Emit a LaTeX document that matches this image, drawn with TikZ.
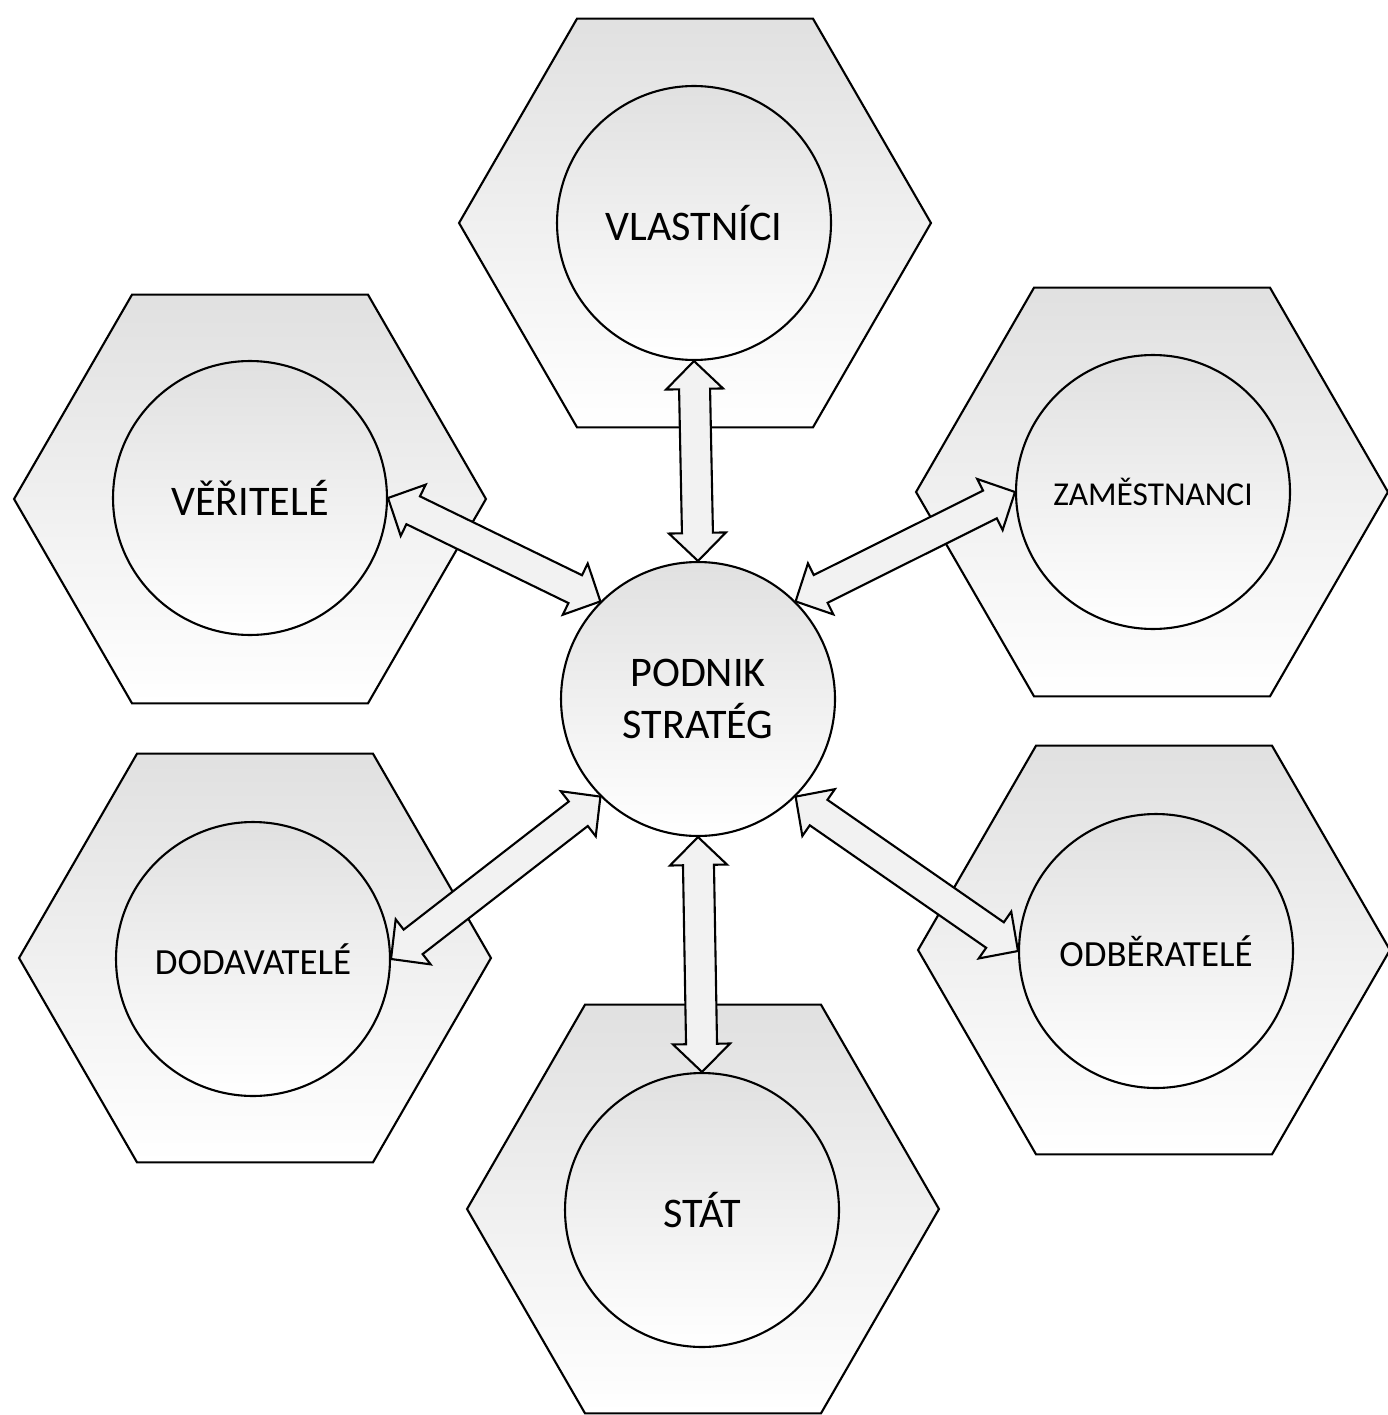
\documentclass[tikz,border=0pt]{standalone}
\usepackage{fontspec}
\setmainfont{Carlito}
\usetikzlibrary{calc, shapes.geometric}

% double-headed block arrow between two anchors
\newcommand{\twinarrow}[2]{%
	\coordinate (ha) at ($(#1)!0.56cm!(#2)$);
	\coordinate (hb) at ($(#2)!0.56cm!(#1)$);
	\filldraw[blockarrow] (#1) -- ($(ha)!0.57cm!90:(#1)$) -- ($(ha)!0.31cm!90:(#1)$)
		-- ($(hb)!0.31cm!-90:(#2)$) -- ($(hb)!0.57cm!-90:(#2)$) -- (#2)
		-- ($(hb)!0.57cm!90:(#2)$) -- ($(hb)!0.31cm!90:(#2)$)
		-- ($(ha)!0.31cm!-90:(#1)$) -- ($(ha)!0.57cm!-90:(#1)$) -- cycle;}

\begin{document}
\begin{tikzpicture}[
				x=0.02cm, y=-0.02cm,
				hexa/.style={regular polygon, regular polygon sides=6, minimum size=9.44cm, inner sep=0pt,
					draw, line width=1.2pt, top color=black!12, middle color=black!3, bottom color=white},
				disc/.style={circle, minimum size=5.48cm, inner sep=0pt, draw, line width=1.2pt,
					top color=black!12, middle color=black!2, bottom color=white, align=center,
					font=\fontsize{24}{29.5}\selectfont},
				blockarrow/.style={draw, line width=1.2pt, fill=black!5, line join=miter}
				]
				\useasboundingbox (0,0) rectangle (1387,1415);
				
				% --- Outer hexagons ---
				\node[hexa] (hvla) at (695,223) {};
				\node[hexa] (hver) at (250,499) {};
				\node[hexa] (hzam) at (1152,492) {};
				\node[hexa] (hdod) at (255,958) {};
				\node[hexa] (hodb) at (1154,950) {};
				\node[hexa] (hsta) at (703,1209) {};
				
				% --- Circles with stakeholders ---
				\node[disc] (vla) at (694,223) {VLASTNÍCI};
				\node[disc] (ver) at (250,498) {VĚŘITELÉ};
				\node[disc, font=\fontsize{19}{23}\selectfont] (zam) at (1153,492) {ZAMĚSTNANCI};
				\node[disc, font=\fontsize{21}{25}\selectfont] (dod) at (253,959) {DODAVATELÉ};
				\node[disc, font=\fontsize{21}{25}\selectfont] (odb) at (1156,951) {ODBĚRATELÉ};
				\node[disc] (sta) at (702,1210) {STÁT};
				\node[disc] (mid) at (698,699) {PODNIK\\ STRATÉG};
				
				% --- Block arrows ---
				\twinarrow{mid.north}{vla.south}
				\twinarrow{mid.135}{ver.east}
				\twinarrow{mid.45}{zam.west}
				\twinarrow{mid.225}{dod.east}
				\twinarrow{mid.315}{odb.west}
				\twinarrow{mid.south}{sta.north}
			\end{tikzpicture}
\end{document}
